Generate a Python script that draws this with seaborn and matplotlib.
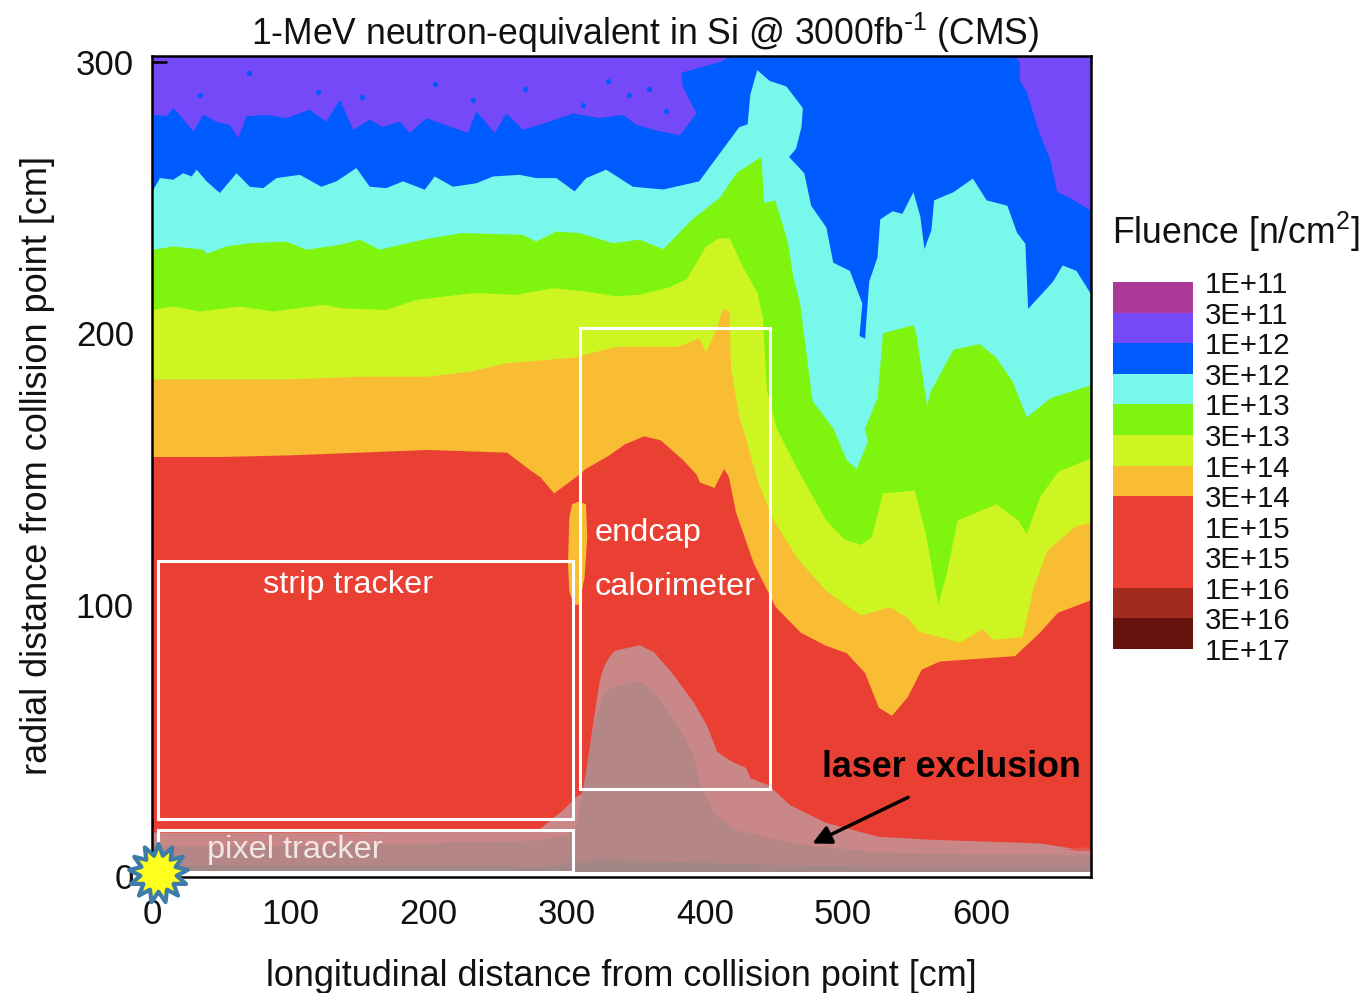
import numpy as np
import matplotlib
matplotlib.use("Agg")
import matplotlib.pyplot as plt
from matplotlib.colors import ListedColormap
from matplotlib.patches import Rectangle
from matplotlib.path import Path
import seaborn as sns

# -- data (z and r in cm)

legend_labels = ['1E+11', '3E+11', '1E+12', '3E+12', '1E+13', '3E+13', '1E+14',
                 '3E+14', '1E+15', '3E+15', '1E+16', '3E+16', '1E+17']
legend_colors = ['#AC3A98', '#7549F8', '#005BFF', '#78F8EA', '#7FF50F', '#CDF521',
                 '#F8BD33', '#EA3F33', '#EA3F33', '#EA3F33', '#A32A1E', '#66130D']

# upper edge of each fluence band
blue_z = [0, 1, 10.6, 15.4, 22.6, 29.9, 37, 46.7, 56.4, 62.4, 68.4, 82.9, 97.3, 114, 126, 136,
          145.5, 157.6, 167, 179.3, 186.5, 198.6, 215.4, 228.7, 234.7, 248, 256.4, 268.5, 287.7,
          304.6, 324, 340.8, 350.4, 363, 382, 394, 384, 383, 411, 415, 420, 620, 628, 628, 633,
          642, 650, 655, 664, 680]
blue_r = [280, 280.5, 280, 283, 279, 274.4, 280.5, 278, 276.8, 272, 280, 280.5, 279.3, 282.4, 278, 286,
          275, 278.7, 276, 278, 273.8, 279.3, 276.2, 273.8, 281.8, 273.8, 281, 275, 278,
          281, 279.3, 280.5, 276.9, 275, 273, 281, 291, 296, 300, 301, 304, 304, 300, 293, 289,
          274, 264, 252, 250, 245]

cyan_z = [0, 1, 5.8, 15.4, 22.6, 28.7, 32.3, 39.5, 49.1, 61.2, 70.8, 80.5, 90.1, 107, 122.6, 133.5,
          147.9, 157.6, 169.6, 181.7, 197.4, 204.6, 217.8, 234.7, 246.8, 266, 278, 292.6, 305.8,
          314.2, 328.7, 348, 370, 396, 409, 425, 431, 433, 438, 447,
          459, 471, 470, 466, 461, 472, 477, 488, 493, 505, 514, 512, 516, 519, 525, 527,
          536, 543, 551, 556, 559, 564, 566, 580, 594, 604, 619, 626, 632, 634, 652, 659,
          669, 680]
cyan_r = [252, 252.9, 257.2, 256.6, 259, 257.8, 260.3, 256, 251.7, 259, 254, 253.5, 257.2, 258.4, 254, 256,
          260.9, 254, 253.5, 256, 252.9, 257.8, 254, 255.3, 257.8, 258.4, 257.2, 257.2, 252.3,
          257.2, 260.3, 254, 253, 256, 265, 276, 277, 288, 297, 293,
          291, 283, 276, 268, 265, 259, 247, 239, 226, 223, 211, 199, 198, 219, 228, 242,
          245, 244, 252, 243, 231, 238, 249, 252, 257, 249, 247, 237, 233, 209, 219, 225,
          223, 214]

green_z = [0, 1, 15.4, 37, 39.5, 54, 70.8, 97.3, 111.8, 136, 150.4, 164.8, 196, 224, 268.5, 278,
           292.6, 309.4, 333.5, 352.8, 370, 391,
           411, 423, 441, 443, 451, 460, 464, 469, 474, 478, 493, 503, 510, 518, 516, 525,
           529, 551, 553, 561, 563, 580, 599, 611, 623, 633, 650, 680]
green_r = [231, 230.8, 232, 230.8, 229.3, 232, 233.2, 233.8, 230.8, 232.6, 234.5, 230.8, 234.5, 236.9, 236.3, 233.8,
           237.5, 236.9, 233.2, 234.5, 231, 242,
           250, 259, 265, 248, 249, 234, 221, 211, 191, 175, 165, 153, 150, 160, 165, 176,
           200, 203, 200, 173, 178, 194, 196, 191, 182, 169, 176, 181]

lime_z = [0, 1, 15.4, 34.7, 63.6, 87.7, 123.9, 138, 169.6, 191.3, 232, 263.6, 290, 314.2, 336, 352.8,
          375, 387, 401, 410, 418, 428, 438, 442, 445, 452, 467, 488, 501, 513, 521, 529, 552, 560, 569,
          575, 583, 611, 627, 633, 643, 656, 680]
lime_r = [208, 208.6, 209.9, 208, 209.9, 208, 210.5, 209.2, 208.6, 212.3, 214.8, 214.2, 216.6, 215.4, 213.6, 214.2,
          217, 220, 232, 235, 235, 224, 215, 206, 179, 165, 150, 131, 124, 122, 125, 141, 142, 126, 100,
          111, 131, 137, 131, 126, 140, 149, 154]

orange_z = [0, 50, 100, 150, 200, 232, 257, 305, 336, 380, 396, 401, 409, 413, 418, 419,
            425, 430, 438, 449, 467, 488, 513, 534, 547, 555, 585, 601, 609, 630, 638, 648,
            669, 680]
orange_r = [183, 183, 183, 184, 184, 186, 189, 191, 195, 195, 198, 193, 202, 209, 208, 187,
            169, 161, 146, 132, 117, 105, 96, 99, 95, 90, 86, 91, 87, 88, 106, 120,
            129, 130]

red_z = [0, 50, 100, 150, 200, 257, 273.5, 281, 291, 307, 314, 331, 342, 356, 368, 376, 384, 394,
         396.5, 407, 414, 417.5, 422.6, 435.6, 451.5, 469.6, 487, 503, 516, 526, 535.5, 547, 557,
         570, 624.5, 642.5, 655.6, 680]
red_r = [154.4, 154.4, 155, 156, 157, 156, 149.6, 147, 141, 147, 150, 155, 159, 162, 160.6, 157, 153.4, 148,
         145, 143, 150, 147, 134, 115, 99, 89.6, 85, 82, 74.8, 62, 59, 66, 76,
         79, 81, 89.6, 97, 101.7]

# small orange patch next to the tracker end
blob_z = [301, 302, 304, 309, 314, 315, 313, 309, 305, 302]
blob_r = [115, 132, 137, 138, 137, 125, 110, 100, 100, 105]

# laser exclusion overlay
outer_z = [0, 60, 150, 280, 297, 307, 312, 315.5, 320, 324, 327, 331, 335, 353, 363, 376, 392, 402,
           409, 420, 430, 433, 446, 462, 488, 526, 565, 642, 680]
outer_r = [16, 16, 16, 17, 24, 29, 30.6, 43, 58.6, 72, 77, 80.7, 83, 85, 82.6, 75, 64, 55,
           45.7, 42, 39.8, 36, 33.5, 26, 19.5, 14.4, 13.3, 12, 9]
inner_z = [0, 100, 200, 280, 300, 307, 314, 320, 327, 331, 338, 347, 356, 366, 373, 381, 392, 397,
           407, 422, 462, 526, 680]
inner_r = [11, 11, 12, 13, 15, 18, 38, 56, 67, 69, 70, 71.5, 71, 66, 61, 55, 44, 33,
           23, 17, 12, 8.5, 7.7]
floor_z = [0, 100, 250, 280, 320, 390, 450, 560, 680]
floor_r = [4, 4, 4, 3, 6, 5, 4, 3, 3]

# red sliver at the right edge of the overlay
sliver_z = [662, 670, 680, 680, 670]
sliver_r = [9.8, 10.4, 10.6, 9.2, 9.2]

# blue specks inside the purple band
speck_z = [17, 35, 70, 120, 136, 152, 205, 232, 270, 312, 330, 345, 360, 372]
speck_r = [281, 288, 296, 289, 282, 287, 292, 286, 290, 284, 293, 288, 290, 282]

# detector boxes: z start, z end, r start, r end
box_z0 = [4, 4, 310]
box_z1 = [305, 305, 447]
box_r0 = [21, 1.5, 32]
box_r1 = [116, 17, 202]

# -- figure

sns.set_theme(style="white", font="Liberation Sans")
plt.rcParams['font.family'] = ['Liberation Sans', 'DejaVu Sans']
plt.rcParams['mathtext.default'] = 'regular'

fig = plt.figure(figsize=(13.65, 9.93), dpi=100)
ax = fig.add_axes([152 / 1365, 1 - 877 / 993, 939 / 1365, 821 / 993])


def band(z, r, color):
    # band is filled down to the axis, the next one paints over it
    z, r = np.asarray(z), np.asarray(r)
    ax.fill(np.r_[z[0], z, z[-1]], np.r_[0, r, 0], color=color, lw=0)


ax.set_facecolor('#7549F8')
band(blue_z, blue_r, '#005BFF')
sns.scatterplot(x=speck_z, y=speck_r, color='#005BFF', s=14, linewidth=0, ax=ax)
band(cyan_z, cyan_r, '#78F8EA')
band(green_z, green_r, '#7FF50F')
band(lime_z, lime_r, '#CDF521')
band(orange_z, orange_r, '#F8BD33')
band(red_z, red_r, '#EA3F33')
ax.fill(blob_z, blob_r, color='#F8BD33', lw=0)
band(outer_z, outer_r, '#C98787')
ax.fill(sliver_z, sliver_r, color='#E0574D', lw=0)
band(inner_z, inner_r, '#B58686')
band(floor_z, floor_r, '#A38686')
ax.axhspan(-1, 1.5, color='white', lw=0)

for z0, z1, r0, r1 in zip(box_z0, box_z1, box_r0, box_r1):
    ax.add_patch(Rectangle((z0, r0), z1 - z0, r1 - r0, fill=False, ec='white', lw=2.2, zorder=4))

ax.set_xlim(0, 679.5)
ax.set_ylim(-0.4, 302.2)
ax.set_xticks([0, 100, 200, 300, 400, 500, 600])
ax.set_yticks([0, 100, 200, 300])
ax.set_xticks([50, 150, 250, 350, 450, 550, 650], minor=True)
ax.set_yticks([50, 150, 250], minor=True)
ax.tick_params(which='major', direction='in', length=11, width=1.8, color='black',
               labelsize=25, left=True, bottom=True, labelcolor='#111111')
ax.tick_params(axis='x', which='major', pad=15)
ax.tick_params(axis='y', which='major', pad=13)
ax.tick_params(which='minor', direction='in', length=5, width=1.5, color='black',
               left=True, bottom=True)
for s in ax.spines.values():
    s.set_visible(True)
    s.set_color('black')
    s.set_linewidth(1.8)
    s.set_zorder(6)

# labels inside the plot
ax.text(80, 107.4, 'strip tracker', color='white', fontsize=23.4, va='center', zorder=5)
ax.text(320, 126.5, 'endcap', color='white', fontsize=23.4, va='center', zorder=5)
ax.text(320, 106.6, 'calorimeter', color='white', fontsize=23.4, va='center', zorder=5)
ax.text(40, 9.6, 'pixel tracker', color='white', alpha=0.8, fontsize=23.4, va='center', zorder=5)
ax.text(485, 40, 'laser exclusion', color='black', fontsize=25.8, fontweight='bold', va='center', zorder=5)
ax.annotate('', xy=(476, 11.5), xytext=(549, 29.4), zorder=5,
            arrowprops=dict(arrowstyle='-|>', color='black', lw=2.5, mutation_scale=28))

# collision point
ax.scatter([4], [1], marker=Path.unit_regular_star(13, 0.62), s=1800,
           color='#FFFF1E', edgecolor='#3E7CA8', linewidth=3, clip_on=False, zorder=8)

fig.text(645 / 1365, 1 - 33 / 993, r'1-MeV neutron-equivalent in Si @ 3000fb$^{\text{-}1}$ (CMS)',
         ha='center', va='center', fontsize=25.6, color='#111111')
fig.text(621 / 1365, 1 - 976 / 993, 'longitudinal distance from collision point [cm]',
         ha='center', va='center', fontsize=25.9, color='#111111')
fig.text(38 / 1365, 1 - 465 / 993, 'radial distance from collision point [cm]',
         ha='center', va='center', rotation=90, fontsize=26, color='#111111')
fig.text(1112 / 1365, 1 - 232 / 993, 'Fluence [n/cm$^2$]',
         ha='left', va='center', fontsize=25.6, color='#111111')

# legend drawn as a one column heatmap
cax = fig.add_axes([1113 / 1365, 1 - 649 / 993, 80 / 1365, 367 / 993])
sns.heatmap(np.arange(12).reshape(-1, 1), cmap=ListedColormap(legend_colors), cbar=False,
            xticklabels=False, yticklabels=False, ax=cax)
cax.yaxis.tick_right()
cax.set_yticks(np.arange(13))
cax.set_yticklabels(legend_labels, rotation=0, fontsize=21.2, color='#111111')
cax.tick_params(axis='y', length=0, pad=8.5)

fig.savefig('out.png', dpi=100)
